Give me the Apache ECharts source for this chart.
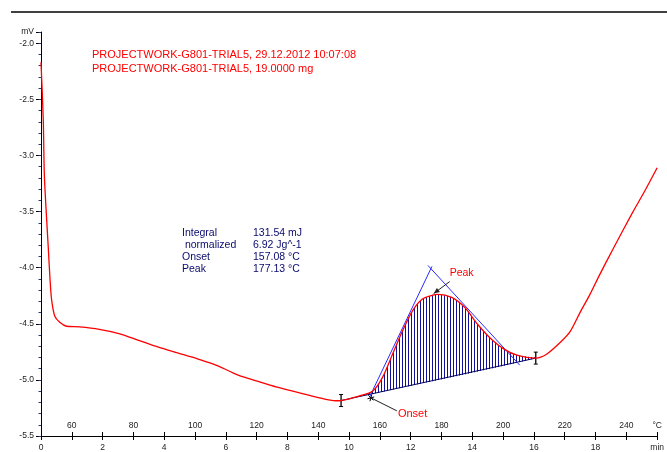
<!DOCTYPE html>
<html><head><meta charset="utf-8">
<script src="https://cdn.jsdelivr.net/npm/echarts@6/dist/echarts.min.js"></script>
<style>html,body{margin:0;padding:0;background:#fff}#c{width:667px;height:452px}</style>
</head><body><div id="c"></div>
<script>
// ---- data ----
const timeMin = [0, 0.074, 0.106, 0.16, 0.234, 0.288, 0.343, 0.449, 0.609, 0.824,
  1.25, 1.89, 2.53, 3.17, 3.81, 4.46, 5.10, 5.74, 6.38, 7.02,
  7.66, 8.30, 8.94, 9.58, 9.74, 10.32, 10.77, 11.09, 11.41, 11.73,
  12.05, 12.37, 12.69, 12.88, 13.33, 13.75, 14.17, 14.62, 15.03, 15.45,
  16.06, 16.41, 16.86, 17.18, 17.50, 17.82, 18.14, 18.56, 19.20, 19.62, 20.0];
const signalMV = [-2.169, -2.684, -3.155, -3.457, -3.812, -4.078, -4.282, -4.433, -4.487, -4.522,
  -4.528, -4.549, -4.587, -4.647, -4.709, -4.762, -4.815, -4.875, -4.955, -5.011,
  -5.064, -5.108, -5.153, -5.186, -5.184, -5.144, -5.099, -4.975, -4.771, -4.567,
  -4.389, -4.282, -4.247, -4.238, -4.265, -4.353, -4.504, -4.638, -4.726, -4.780,
  -4.806, -4.771, -4.664, -4.567, -4.398, -4.238, -4.060, -3.838, -3.510, -3.306, -3.110];
const baselineStartTime = 9.74;
const baselineEndTime = 16.06;
const tangentLeft = [[10.66, -5.155], [12.69, -3.989]];
const tangentRight = [[12.56, -3.98], [15.54, -4.869]];
const onsetPoint = [10.708, -5.16];
const peakPoint = [12.713, -4.24];
const minuteTicks = [0, 2, 4, 6, 8, 10, 12, 14, 16, 18, 20];
const tempTicks = [60, 80, 100, 120, 140, 160, 180, 200, 220, 240, 250];
const mvTicks = [-5.5, -5.0, -4.5, -4.0, -3.5, -3.0, -2.5, -2.0, -1.9];
const headerLines = ['PROJECTWORK-G801-TRIAL5, 29.12.2012 10:07:08', 'PROJECTWORK-G801-TRIAL5, 19.0000 mg'];
const resultNames = ['Integral', ' normalized', 'Onset', 'Peak'];
const resultValues = ['131.54 mJ', '6.92 Jg^-1', '157.08 °C', '177.13 °C'];

// ---- chart ----
const FONT = 'Liberation Sans';
const chart = echarts.init(document.getElementById('c'), null, {renderer: 'canvas'});
const pc = document.createElement('canvas'); pc.width = 3; pc.height = 4;
const pg = pc.getContext('2d'); pg.fillStyle = '#10109a'; pg.fillRect(0, 0, 1, 4);
const hatch = {image: pc, repeat: 'repeat'};

const curveData = timeMin.map((t, i) => [t, signalMV[i]]);
const i0 = timeMin.indexOf(baselineStartTime), i1 = timeMin.indexOf(baselineEndTime);

function renderAnno(params, api) {
  const ch = [];
  const pts = [];
  for (let i = i0; i <= i1; i++) pts.push(api.coord([timeMin[i], signalMV[i]]));
  ch.push({type: 'polygon', shape: {points: pts, smooth: 0.3}, style: {fill: hatch}});
  const a = pts[0], b = pts[pts.length - 1];
  ch.push({type: 'line', shape: {x1: a[0], y1: a[1], x2: b[0], y2: b[1]}, style: {stroke: '#00005a', lineWidth: 1}});
  [a, b].forEach(p => {
    ch.push({type: 'line', shape: {x1: p[0], y1: p[1] - 6, x2: p[0], y2: p[1] + 6}, style: {stroke: '#000', lineWidth: 1.3}});
    ch.push({type: 'line', shape: {x1: p[0] - 2, y1: p[1] - 6, x2: p[0] + 2, y2: p[1] - 6}, style: {stroke: '#000', lineWidth: 1}});
    ch.push({type: 'line', shape: {x1: p[0] - 2, y1: p[1] + 6, x2: p[0] + 2, y2: p[1] + 6}, style: {stroke: '#000', lineWidth: 1}});
  });
  [tangentLeft, tangentRight].forEach(tg => {
    const p = api.coord(tg[0]), q = api.coord(tg[1]);
    ch.push({type: 'line', shape: {x1: p[0], y1: p[1], x2: q[0], y2: q[1]}, style: {stroke: '#2a2aff', lineWidth: 1}});
  });
  const o = api.coord(onsetPoint);
  for (let k = 0; k < 3; k++) {
    const ang = Math.PI / 4 + k * Math.PI / 3;
    const dx = 3.5 * Math.cos(ang), dy = 3.5 * Math.sin(ang);
    ch.push({type: 'line', shape: {x1: o[0] - dx, y1: o[1] - dy, x2: o[0] + dx, y2: o[1] + dy}, style: {stroke: '#000', lineWidth: 1}});
  }
  ch.push({type: 'line', shape: {x1: o[0], y1: o[1], x2: o[0] + 26, y2: o[1] + 13}, style: {stroke: '#222', lineWidth: 1}});
  ch.push({type: 'text', x: o[0] + 27, y: o[1] + 16, style: {text: 'Onset', fill: '#ff0000', font: '11px ' + FONT, verticalAlign: 'middle'}});
  const pk = api.coord(peakPoint);
  const sx = pk[0] + 17, sy = pk[1] - 13;
  ch.push({type: 'line', shape: {x1: sx, y1: sy, x2: pk[0] + 1, y2: pk[1] - 1}, style: {stroke: '#222', lineWidth: 1}});
  const ang = Math.atan2(pk[1] - sy, pk[0] - sx);
  const L = 6, W = 2.5;
  const tip = [pk[0] + 1, pk[1] - 1];
  const bx = tip[0] - L * Math.cos(ang), by = tip[1] - L * Math.sin(ang);
  ch.push({type: 'polygon', shape: {points: [tip, [bx - W * Math.sin(ang), by + W * Math.cos(ang)], [bx + W * Math.sin(ang), by - W * Math.cos(ang)]]}, style: {fill: '#222'}});
  ch.push({type: 'text', x: pk[0] + 17, y: pk[1] - 21, style: {text: 'Peak', fill: '#ff0000', font: '10.5px ' + FONT, verticalAlign: 'middle'}});
  return {type: 'group', children: ch};
}

const lbl = {fontFamily: FONT, fontSize: 8.5, color: '#222'};
const graphics = [
  {type: 'line', shape: {x1: 11, y1: 12, x2: 667, y2: 12}, style: {stroke: '#000', lineWidth: 1.5}}
];
headerLines.forEach((t, i) => graphics.push({type: 'text', x: 92, y: 55 + i * 14, style: {text: t, fill: '#ff0000', font: '11px ' + FONT, verticalAlign: 'middle'}}));
const rowY = [233, 245, 257, 269];
resultNames.forEach((t, i) => graphics.push({type: 'text', x: 182, y: rowY[i], style: {text: t, fill: '#0a0a6e', font: '10.5px ' + FONT, verticalAlign: 'middle'}}));
resultValues.forEach((t, i) => graphics.push({type: 'text', x: 253, y: rowY[i], style: {text: t, fill: '#0a0a6e', font: '10.5px ' + FONT, verticalAlign: 'middle'}}));

chart.setOption({
  animation: false,
  backgroundColor: '#fff',
  grid: {left: 41, right: 2, top: 32, bottom: 16, containLabel: false},
  xAxis: [
    {type: 'value', min: 0, max: 20, position: 'bottom',
     axisLine: {show: true, onZero: false, lineStyle: {color: '#000', width: 1}},
     axisTick: {show: true, length: 4, customValues: minuteTicks, lineStyle: {color: '#000'}},
     axisLabel: Object.assign({customValues: minuteTicks, margin: 7, formatter: v => v === 20 ? 'min' : String(v)}, lbl),
     splitLine: {show: false}},
    {type: 'value', min: 50, max: 250, position: 'bottom',
     axisLine: {show: false, onZero: false},
     axisTick: {show: true, length: 4, customValues: tempTicks, lineStyle: {color: '#000'}},
     axisLabel: Object.assign({inside: true, customValues: tempTicks, margin: 6, formatter: v => v === 250 ? '°C' : String(v)}, lbl),
     splitLine: {show: false}},
    {type: 'value', min: 0, max: 20, interval: 1, position: 'bottom',
     axisLine: {show: false, onZero: false},
     axisTick: {show: true, inside: true, length: 4, lineStyle: {color: '#000'}},
     axisLabel: {show: false}, splitLine: {show: false}}
  ],
  yAxis: [
    {type: 'value', min: -5.5, max: -1.9, position: 'left',
     axisLine: {show: true, onZero: false, lineStyle: {color: '#000', width: 1}},
     axisTick: {show: true, length: 5, customValues: mvTicks, lineStyle: {color: '#000'}},
     axisLabel: Object.assign({customValues: mvTicks, margin: 7, formatter: v => v > -1.95 ? 'mV' : v.toFixed(1)}, lbl),
     splitLine: {show: false}},
    {type: 'value', min: -5.5, max: -1.9, interval: 0.1, position: 'left',
     axisLine: {show: false, onZero: false},
     axisTick: {show: true, length: 2.5, lineStyle: {color: '#2a3a6a'}},
     axisLabel: {show: false}, splitLine: {show: false}}
  ],
  graphic: graphics,
  series: [
    {type: 'custom', xAxisIndex: 0, yAxisIndex: 0, z: 2, renderItem: renderAnno, data: [[0, 0]], silent: true, clip: false},
    {type: 'line', xAxisIndex: 0, yAxisIndex: 0, z: 3, data: curveData, showSymbol: false, smooth: 0.3,
     lineStyle: {color: '#ff0000', width: 1.3}}
  ]
});
</script></body></html>
